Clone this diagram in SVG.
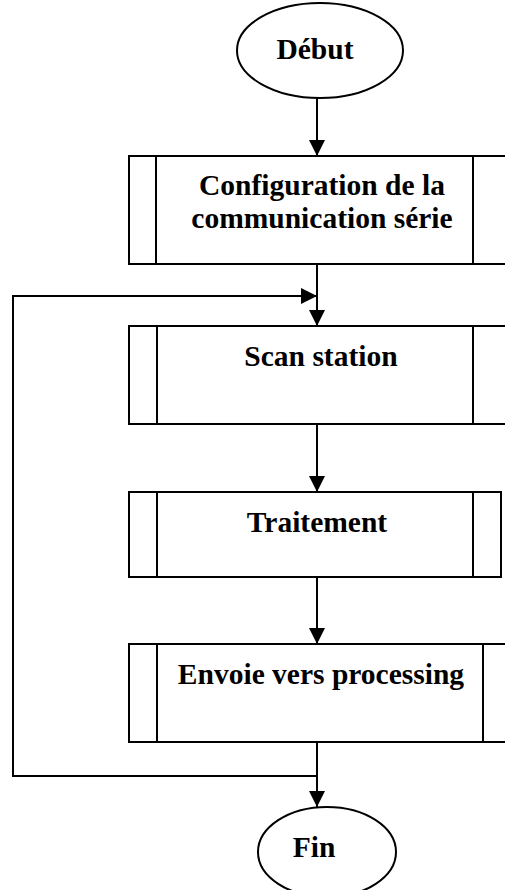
<svg xmlns="http://www.w3.org/2000/svg" width="505" height="890" viewBox="0 0 505 890">
<style>
.shape{fill:#fff;stroke:#000;stroke-width:2}
.line{fill:none;stroke:#000;stroke-width:2}
.lbl{font-family:"Liberation Serif","Times New Roman",serif;font-weight:bold;font-size:29.5px;fill:#000;text-anchor:middle}
</style>
<defs>
<marker id="ah" markerUnits="userSpaceOnUse" markerWidth="16" markerHeight="16" refX="16" refY="8" orient="auto">
<path d="M0,0 L16,8 L0,16 Z" fill="#000"/>
</marker>
</defs>
<g id="connectors">
<line class="line" x1="317" y1="98" x2="317" y2="156" marker-end="url(#ah)"/>
<line class="line" x1="317" y1="264" x2="317" y2="326" marker-end="url(#ah)"/>
<line class="line" x1="317" y1="424" x2="317" y2="492" marker-end="url(#ah)"/>
<line class="line" x1="317" y1="577" x2="317" y2="644" marker-end="url(#ah)"/>
<line class="line" x1="317" y1="742" x2="317" y2="807" marker-end="url(#ah)"/>
<polyline class="line" points="317,776 13,776 13,296 317,296" marker-end="url(#ah)"/>
</g>
<g id="debut">
<ellipse class="shape" cx="320" cy="50.5" rx="83" ry="47.5"/>
<text class="lbl" x="315" y="59">Début</text>
</g>
<g id="config">
<rect class="shape" x="129" y="156" width="385" height="108"/>
<line class="line" x1="156" y1="156" x2="156" y2="264"/>
<line class="line" x1="473" y1="156" x2="473" y2="264"/>
<text class="lbl" x="322" y="195">Configuration de la</text>
<text class="lbl" x="322" y="228">communication série</text>
</g>
<g id="scan">
<rect class="shape" x="129" y="326" width="385" height="98"/>
<line class="line" x1="157" y1="326" x2="157" y2="424"/>
<line class="line" x1="473" y1="326" x2="473" y2="424"/>
<text class="lbl" x="321" y="366">Scan station</text>
</g>
<g id="traitement">
<rect class="shape" x="129" y="492" width="372" height="85"/>
<line class="line" x1="157" y1="492" x2="157" y2="577"/>
<line class="line" x1="473" y1="492" x2="473" y2="577"/>
<text class="lbl" x="317" y="532">Traitement</text>
</g>
<g id="envoie">
<rect class="shape" x="129" y="644" width="385" height="98"/>
<line class="line" x1="157" y1="644" x2="157" y2="742"/>
<line class="line" x1="483" y1="644" x2="483" y2="742"/>
<text class="lbl" x="321" y="684">Envoie vers processing</text>
</g>
<g id="fin">
<ellipse class="shape" cx="327" cy="852" rx="69" ry="45"/>
<text class="lbl" x="314" y="857">Fin</text>
</g>
</svg>
